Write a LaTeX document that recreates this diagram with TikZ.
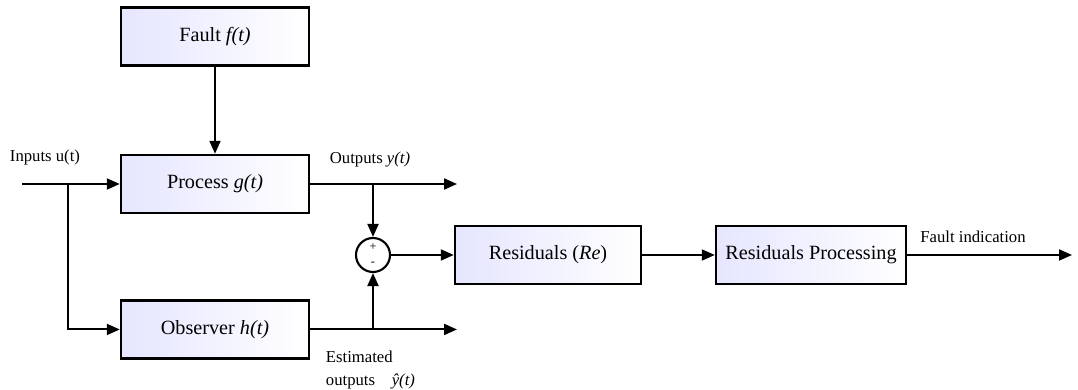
\documentclass[tikz,border=0pt]{standalone}
\usepackage{fontspec}
\setmainfont{Liberation Serif}
\usetikzlibrary{arrows.meta,positioning,calc}

\begin{document}
\begin{tikzpicture}[>={Triangle[length=2.6mm,width=2.2mm]},line width=1.1pt,
   block/.style={draw,line width=1.4pt,minimum width=3.76cm,minimum height=1.16cm,left color=blue!10,right color=white,font=\fontsize{11.5}{13}\selectfont},
   sumnode/.style={draw,circle,line width=1.2pt,minimum size=0.68cm,inner sep=0pt},
   lbl/.style={font=\fontsize{9.5}{11}\selectfont,inner sep=0pt}]
  \useasboundingbox (0,0) rectangle (21.56,7.8);
  \node[block] (proc) at (4.30,4.12) {Process \textit{g(t)}};
  \node[block,above=1.74cm of proc] (fault) {Fault \textit{f(t)}};
  \node[block,below=1.70cm of proc] (obs) {Observer \textit{h(t)}};
  \node[sumnode] (sum) at (7.46,2.70) {};
  \node[font=\fontsize{7}{8}\selectfont,inner sep=0pt] at ($(sum.center)+(0,0.16)$) {+};
  \node[font=\fontsize{7}{8}\selectfont,inner sep=0pt] at ($(sum.center)+(0,-0.17)$) {-};
  \node[block,minimum width=3.72cm] (res) at (10.96,2.70) {Residuals (\textit{Re})};
  \node[block,minimum width=3.80cm] (rproc) at (16.22,2.70) {Residuals Processing};
  % free ends of the signal lines
  \coordinate (in) at (0.44,4.12);
  \coordinate (br) at (1.36,4.12);
  \coordinate (yout) at (9.14,4.12);
  \coordinate (yhat) at (obs.east -| yout);
  \coordinate (fi) at (21.44,2.70);
  \coordinate (ybr) at (sum |- proc);
  \coordinate (hbr) at (sum |- obs);
  % connectors
  \draw[->] (fault) -- (proc);
  \draw[->] (in) -- (proc);
  \draw[->] (br) |- (obs);
  \draw[->] (proc) -- (yout);
  \draw[->] (obs) -- (yhat);
  \draw[->] (ybr) -- (sum);
  \draw[->] (hbr) -- (sum);
  \foreach \a/\b in {sum/res,res/rproc,rproc/fi}{\draw[->] (\a) -- (\b);}
  % labels
  \node[lbl] (lin) at (0.9,4.66) {Inputs u(t)};
  \node[lbl] (lout) at (7.4,4.6) {Outputs \textit{y(t)}};
  \node[lbl] (lfi) at (19.46,3.06) {Fault indication};
  \node[lbl,anchor=north west,align=left] (lest) at (6.5,0.80) {Estimated\\[2pt]outputs\quad \textit{ŷ(t)}};
\end{tikzpicture}
\end{document}
